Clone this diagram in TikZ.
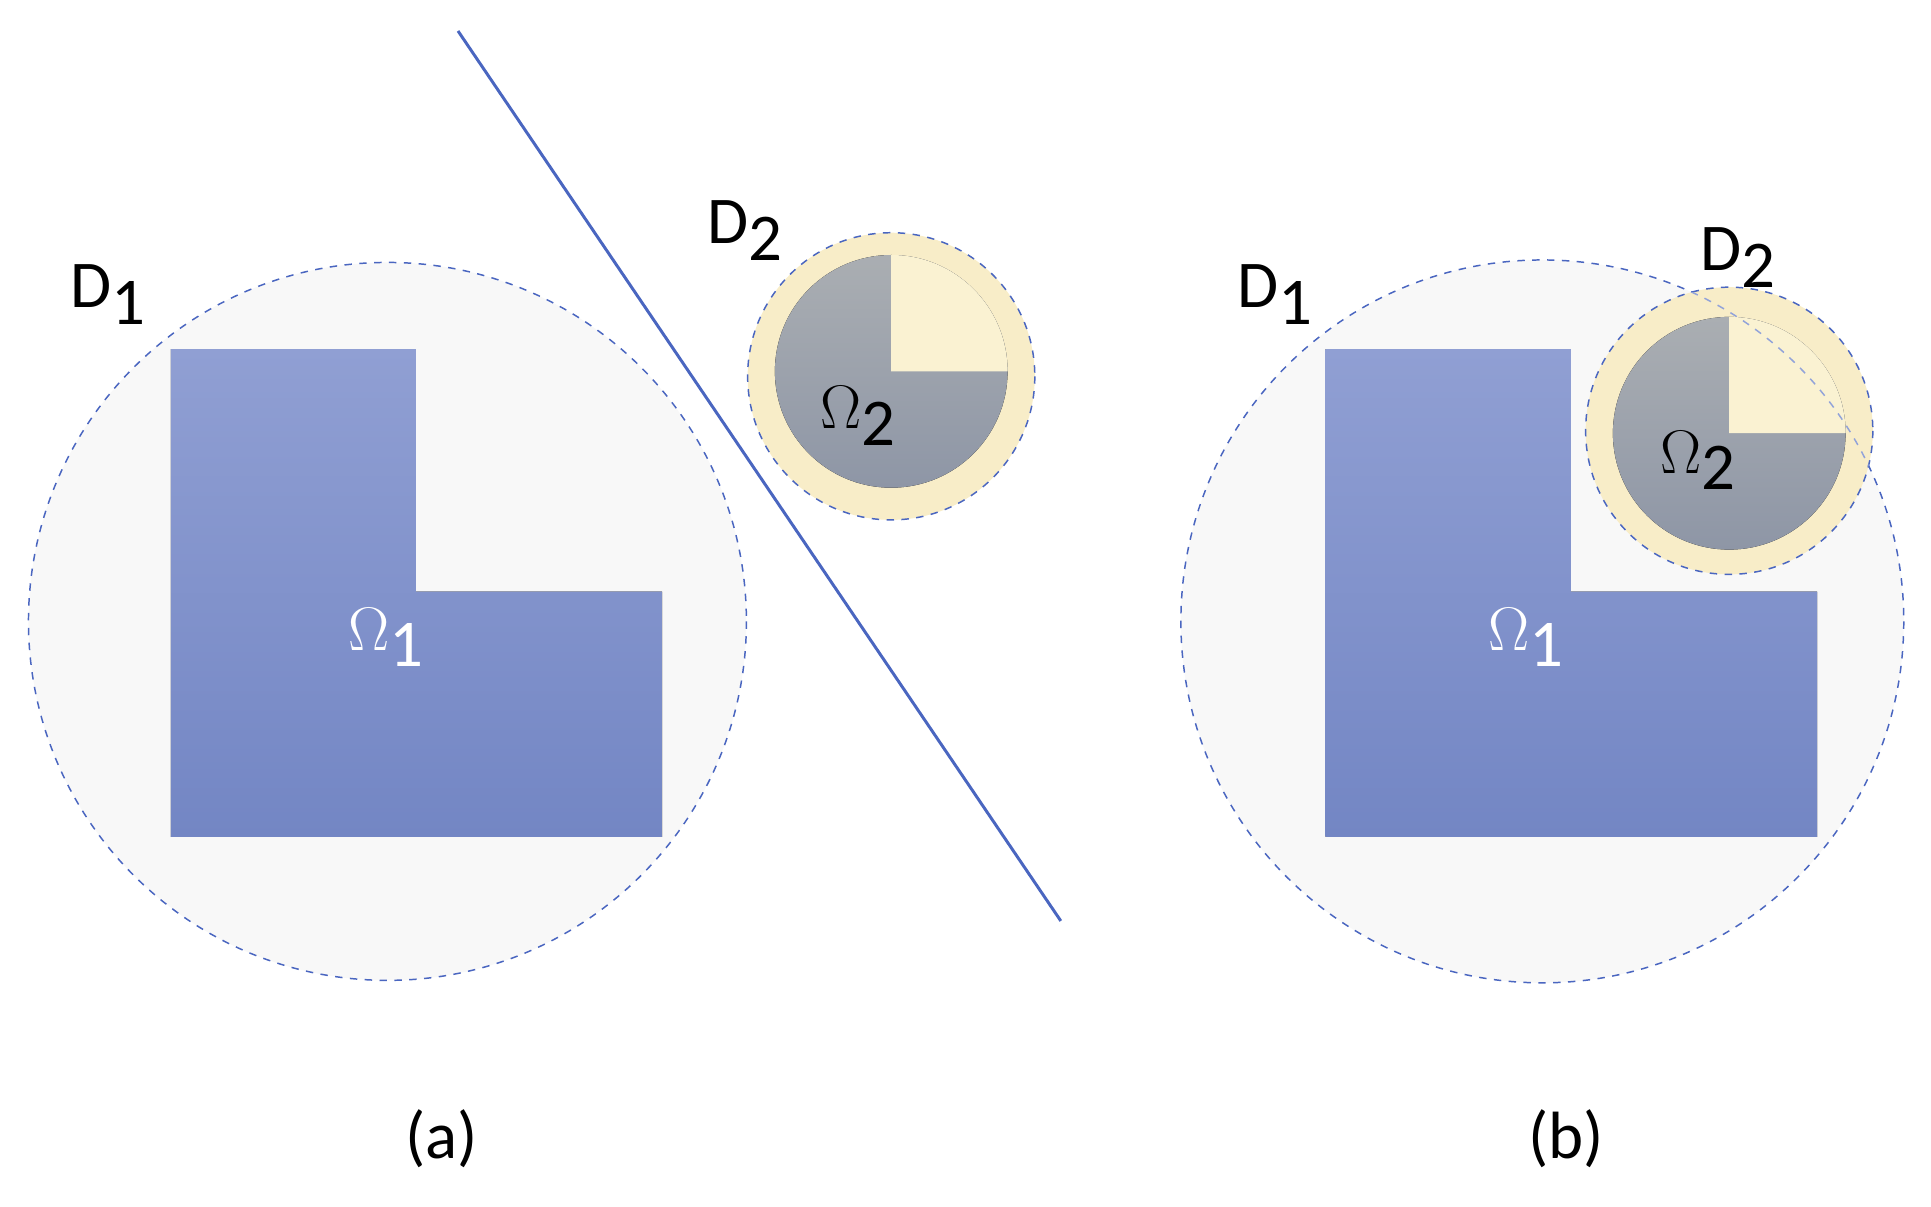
\documentclass[tikz,border=0pt]{standalone}
\usepackage{fontspec}
\setmainfont{Carlito}
\definecolor{dblue}{HTML}{4A66C0}
\definecolor{bigfill}{HTML}{F8F8F8}
\definecolor{yel}{HTML}{F8EDC8}
\definecolor{cream}{HTML}{FAF2D2}
\definecolor{Ltop}{HTML}{909FD3}
\definecolor{Lbot}{HTML}{7386C4}
\definecolor{Gtop}{HTML}{AAAEB2}
\definecolor{Gbot}{HTML}{8E96A6}
\tikzset{
  bigc/.style={fill=bigfill,draw=dblue,dashed,line width=0.6pt},
  smallc/.style={fill=yel,draw=dblue,dashed,line width=0.6pt},
  lshape/.style={top color=Ltop,bottom color=Lbot,draw=none},
  gdisc/.style={top color=Gtop,bottom color=Gbot,draw=none},
  lab/.style={font=\fontsize{27}{30}\selectfont,inner sep=0pt},
}
\begin{document}
\begin{tikzpicture}[x=0.5pt,y=-0.5pt]
\useasboundingbox (0,0) rectangle (1560,975);
% ---- (a)
\draw[bigc] (313,502) circle (290);
\fill[lshape] (138,282) -- (336,282) -- (336,478) -- (535,478) -- (535,676) -- (138,676) -- cycle;
\node[lab,text=white] (o1a) at (312,515) {$\Omega$\raisebox{-0.25em}{1}};
\node[lab] (d1a) at (87,238) {D\raisebox{-0.25em}{1}};
\coordinate (la) at (370,25);
\coordinate (lb) at (857,744);
\draw[dblue,line width=1.2pt] (la) -- (lb);
\draw[smallc] (720,304) circle (116);
\fill[gdisc] (720,300) circle (94);
\fill[cream] (720,300) -- ++(94,0) arc (0:-90:94) -- cycle;
\node[lab] (o2a) at (693,336) {$\Omega$\raisebox{-0.25em}{2}};
\node[lab] (d2a) at (602,186) {D\raisebox{-0.25em}{2}};
\node[lab] (ca) at (357,920) {(a)};
% ---- (b)
\draw[bigc] (1246,502) circle (292);
\fill[lshape] (1071,282) -- (1269,282) -- (1269,478) -- (1468,478) -- (1468,676) -- (1071,676) -- cycle;
\node[lab,text=white] (o1b) at (1233,515) {$\Omega$\raisebox{-0.25em}{1}};
\node[lab] (d1b) at (1030,238) {D\raisebox{-0.25em}{1}};
\draw[smallc] (1397,348) circle (116);
\fill[gdisc] (1397,350) circle (94);
\fill[cream] (1397,350) -- ++(94,0) arc (0:-90:94) -- cycle;
\begin{scope}
\clip (1397,348) circle (116);
\draw[dblue!60,dashed,line width=0.6pt] (1246,502) circle (292);
\end{scope}
\node[lab] (o2b) at (1372,372) {$\Omega$\raisebox{-0.25em}{2}};
\node[lab] (d2b) at (1404,208) {D\raisebox{-0.25em}{2}};
\node[lab] (cb) at (1265,920) {(b)};
\end{tikzpicture}
\end{document}
